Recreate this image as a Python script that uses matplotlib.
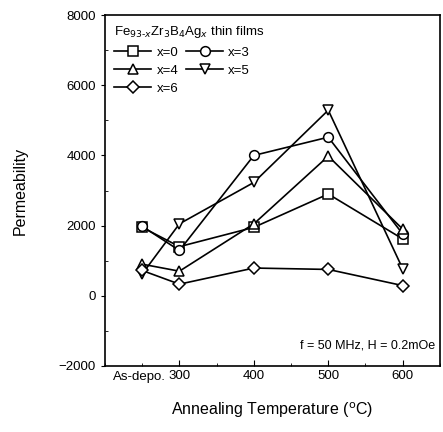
import matplotlib.pyplot as plt
from matplotlib.ticker import MultipleLocator

plt.rcParams['font.family'] = ['Liberation Sans', 'DejaVu Sans']

temps = [250, 300, 400, 500, 600]
perm_x0 = [1950, 1400, 1950, 2900, 1620]
perm_x3 = [1980, 1290, 4000, 4520, 1760]
perm_x4 = [900, 700, 2050, 3980, 1900]
perm_x5 = [620, 2050, 3230, 5290, 770]
perm_x6 = [720, 330, 790, 750, 290]

series = [
    ("x=0", perm_x0, "s"),
    ("x=3", perm_x3, "o"),
    ("x=4", perm_x4, "^"),
    ("x=5", perm_x5, "v"),
    ("x=6", perm_x6, "D"),
]

fig = plt.figure(figsize=(4.43, 4.32), dpi=100)
ax = fig.add_axes([0.237, 0.153, 0.756, 0.812])

lines = {}
for lab, vals, mk in series:
    ms = 6 if mk == "D" else 7
    ln, = ax.plot(temps, vals, color="black", lw=1.2, marker=mk, ms=ms,
                  mfc="white", mec="black", mew=1.1, label=lab)
    lines[lab] = ln

ax.set_xlim(200, 650)
ax.set_ylim(-2000, 8000)
ax.set_xticks([300, 400, 500, 600])
ax.xaxis.set_minor_locator(MultipleLocator(50))
ax.yaxis.set_major_locator(MultipleLocator(2000))
ax.yaxis.set_minor_locator(MultipleLocator(1000))
ax.tick_params(axis="x", which="both", direction="in", labelsize=9.5, pad=3)
ax.tick_params(axis="x", which="major", length=4)
ax.tick_params(axis="x", which="minor", length=2)
ax.tick_params(axis="y", which="major", direction="out", length=3, labelsize=9.5)
ax.tick_params(axis="y", which="minor", direction="in", length=2)
for s in ax.spines.values():
    s.set_linewidth(1.2)

ax.text(282, -2150, "As-depo.", ha="right", va="top", fontsize=9.5)

ax.set_xlabel("Annealing Temperature ($^{\\rm o}$C)", fontsize=11.5, labelpad=13)
ax.set_ylabel("Permeability", fontsize=11.5, labelpad=22)

order = ["x=0", "x=4", "x=6", "x=3", "x=5"]
leg = ax.legend([lines[k] for k in order], order, loc="upper left", ncol=2,
                frameon=False, fontsize=9.5,
                title="Fe$_{93\\text{-}x}$Zr$_3$B$_4$Ag$_x$ thin films",
                title_fontsize=9.5, handlelength=2.8, columnspacing=0.6,
                handletextpad=0.4, labelspacing=0.45, borderaxespad=0.3)
leg._legend_box.align = "left"

ax.text(0.985, 0.04, "f = 50 MHz, H = 0.2mOe", transform=ax.transAxes,
        ha="right", va="bottom", fontsize=9)

fig.savefig("out.png", dpi=100)
